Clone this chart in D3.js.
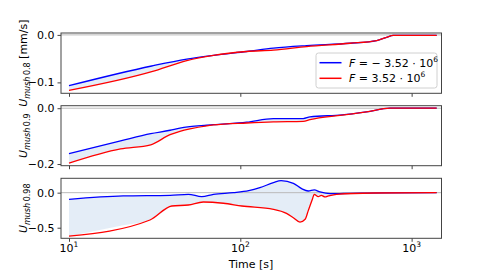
<!DOCTYPE html>
<html><head><meta charset="utf-8">
<script src="https://cdn.jsdelivr.net/npm/d3@7"></script>
<style>body{margin:0;background:#fff}svg{display:block}text{font-family:"DejaVu Sans",sans-serif}</style>
</head><body><svg id="c" width="491" height="273"></svg>
<script>
// Data
const seriesNames = ["F = −3.52·10^6", "F = 3.52·10^6"];
const xTicks = [10, 100, 1000];
const p1Time = [10, 30.4, 48.7, 69.7, 109, 156, 244, 437, 625, 714, 781, 1400];
const p1Blue = [-0.107, -0.0655, -0.051, -0.043, -0.035, -0.028, -0.0226, -0.0176, -0.012, -0.005, -0.001, -0.001];
const p1Red  = [-0.117, -0.0775, -0.054, -0.043, -0.035, -0.032, -0.0247, -0.0176, -0.012, -0.005, -0.001, -0.001];
const p2Time = [10, 20, 30, 38.9, 44.4, 50.8, 63.7, 69.7, 109, 156, 233, 255, 393, 545, 748, 1400];
const p2Blue = [-0.163, -0.117, -0.091, -0.079, -0.071, -0.066, -0.061, -0.059, -0.050, -0.037, -0.037, -0.031, -0.024, -0.013, 0.0, 0.0];
const p2Red  = [-0.197, -0.146, -0.131, -0.095, -0.083, -0.074, -0.063, -0.060, -0.053, -0.049, -0.047, -0.041, -0.025, -0.013, 0.0, 0.0];
const p3BlueTime = [10, 20.7, 38.9, 49.7, 59.5, 69.7, 91, 112, 130, 156, 173, 204, 228, 249, 270, 292, 334, 400, 700, 1400];
const p3Blue = [-0.095, -0.047, -0.038, -0.023, -0.057, -0.023, 0.0, 0.029, 0.071, 0.143, 0.171, 0.134, 0.057, 0.024, 0.039, 0.01, -0.014, -0.012, -0.002, 0.0];
const p3RedTime = [10, 29.7, 39.8, 49.7, 60.8, 79.7, 102, 156, 186, 204, 223, 239, 249, 264, 270, 285, 297, 312, 327, 364, 600, 1400];
const p3Red = [-0.62, -0.39, -0.19, -0.176, -0.133, -0.151, -0.19, -0.237, -0.295, -0.357, -0.42, -0.38, -0.26, -0.086, -0.023, -0.057, -0.038, -0.061, -0.047, -0.023, -0.005, 0.0];
const panels = [
  {label:"0.8", unit:" [mm/s]", domain:[-0.123,0.004], ticks:[0,-0.1], top:33, bottom:93.3,
   bt:p1Time, b:p1Blue, rt:p1Time, r:p1Red},
  {label:"0.9", unit:"", domain:[-0.206,0.009], ticks:[0,-0.2], top:105.7, bottom:165.7,
   bt:p2Time, b:p2Blue, rt:p2Time, r:p2Red},
  {label:"0.98", unit:"", domain:[-0.651,0.205], ticks:[0,-0.5], top:178.3, bottom:238.3,
   bt:p3BlueTime, b:p3Blue, rt:p3RedTime, r:p3Red}
];
const colors = ["#0000ff", "#ff0000"];

const svg = d3.select("#c");
const x = d3.scaleLog().domain([8.98, 1494]).range([61, 441.5]);
const fmt = v => (v < 0 ? "−" : "") + Math.abs(v).toFixed(1);

function interp(ts, vs, t){
  const lt = Math.log10(t);
  for (let i=0;i<ts.length-1;i++){
    const a=Math.log10(ts[i]), b=Math.log10(ts[i+1]);
    if (lt>=a && lt<=b){ const f=(lt-a)/(b-a||1); return vs[i]+f*(vs[i+1]-vs[i]); }
  }
  return vs[vs.length-1];
}

panels.forEach((p, pi) => {
  const y = d3.scaleLinear().domain(p.domain).range([p.bottom, p.top]);
  const g = svg.append("g");
  const allT = Array.from(new Set([...p.bt, ...p.rt])).sort((a,b)=>a-b);
  const fillData = allT.map(t => ({t, b: interp(p.bt, p.b, t), r: interp(p.rt, p.r, t)}));
  g.append("path").datum(fillData)
    .attr("d", d3.area().x(d=>x(d.t)).y0(d=>y(d.b)).y1(d=>y(d.r)).curve(d3.curveMonotoneX))
    .attr("fill", "#dbe7f4").attr("fill-opacity", 0.75);
  g.append("line").attr("x1", 61).attr("x2", 441.5).attr("y1", y(0)).attr("y2", y(0))
    .attr("stroke", "#bbbbbb").attr("stroke-width", 1);
  const line = d3.line().x(d=>x(d[0])).y(d=>y(d[1])).curve(d3.curveMonotoneX);
  g.append("path").datum(d3.zip(p.bt, p.b)).attr("d", line).attr("fill","none")
    .attr("stroke", colors[0]).attr("stroke-width", 1.3);
  g.append("path").datum(d3.zip(p.rt, p.r)).attr("d", line).attr("fill","none")
    .attr("stroke", colors[1]).attr("stroke-width", 1.3);
  g.append("rect").attr("x", 61).attr("y", p.top).attr("width", 441.5-61).attr("height", p.bottom-p.top)
    .attr("fill","none").attr("stroke","#444").attr("stroke-width",1);
  const ya = d3.axisLeft(y).tickValues(p.ticks).tickFormat(fmt).tickSize(3.5).tickPadding(3);
  const yg = g.append("g").attr("transform","translate(61,0)").call(ya);
  yg.select(".domain").remove();
  yg.selectAll("text").attr("font-size", 11).attr("fill","#000").attr("font-family","DejaVu Sans");
  yg.selectAll("line").attr("stroke","#444");
  const xa = d3.axisBottom(x).tickValues(xTicks).tickSize(3.5).tickPadding(3).tickFormat("");
  const xg = g.append("g").attr("transform",`translate(0,${p.bottom})`).call(xa);
  xg.select(".domain").remove();
  xg.selectAll("line").attr("stroke","#444");
  if (pi === 2) {
    xTicks.forEach(t => {
      const tx = xg.append("text").attr("x", x(t)).attr("y", 14).attr("text-anchor","middle")
        .attr("font-size", 11).attr("fill","#000");
      tx.append("tspan").text("10");
      tx.append("tspan").attr("font-size", 7.5).attr("dy", -5).text(Math.round(Math.log10(t)));
    });
  }
  const cy = (p.top + p.bottom)/2;
  const lab = svg.append("text").attr("transform", `translate(27,${cy}) rotate(-90)`)
    .attr("text-anchor","middle").attr("font-size", 11).attr("fill","#000");
  lab.append("tspan").attr("font-style","italic").text("U");
  lab.append("tspan").attr("font-size", 8).attr("dy", 2.5).attr("font-style","italic").text("mush");
  lab.append("tspan").attr("font-size", 8).text("\u2009" + p.label);
  if (p.unit) lab.append("tspan").attr("dy", -2.5).text(p.unit);
});

svg.append("text").attr("x", 251).attr("y", 268).attr("text-anchor","middle")
  .attr("font-size", 11).attr("fill","#000").text("Time [s]");

const lg = svg.append("g");
lg.append("rect").attr("x", 316).attr("y", 53).attr("width", 121).attr("height", 35).attr("rx", 2.5)
  .attr("fill","#fff").attr("fill-opacity",0.8).attr("stroke","#d0d0d0").attr("stroke-width",1);
[0,1].forEach(i => {
  const yy = 62.7 + i*15.6;
  lg.append("line").attr("x1", 319.5).attr("x2", 341.5).attr("y1", yy).attr("y2", yy)
    .attr("stroke", colors[i]).attr("stroke-width", 1.5);
  const t = lg.append("text").attr("x", 349).attr("y", yy + 4).attr("font-size", 11).attr("fill","#000");
  t.append("tspan").attr("font-style","italic").text("F");
  t.append("tspan").text(i === 0 ? " = − 3.52 · 10" : " = 3.52 · 10");
  t.append("tspan").attr("font-size", 7.5).attr("dy", -5).text("6");
});
</script></body></html>
